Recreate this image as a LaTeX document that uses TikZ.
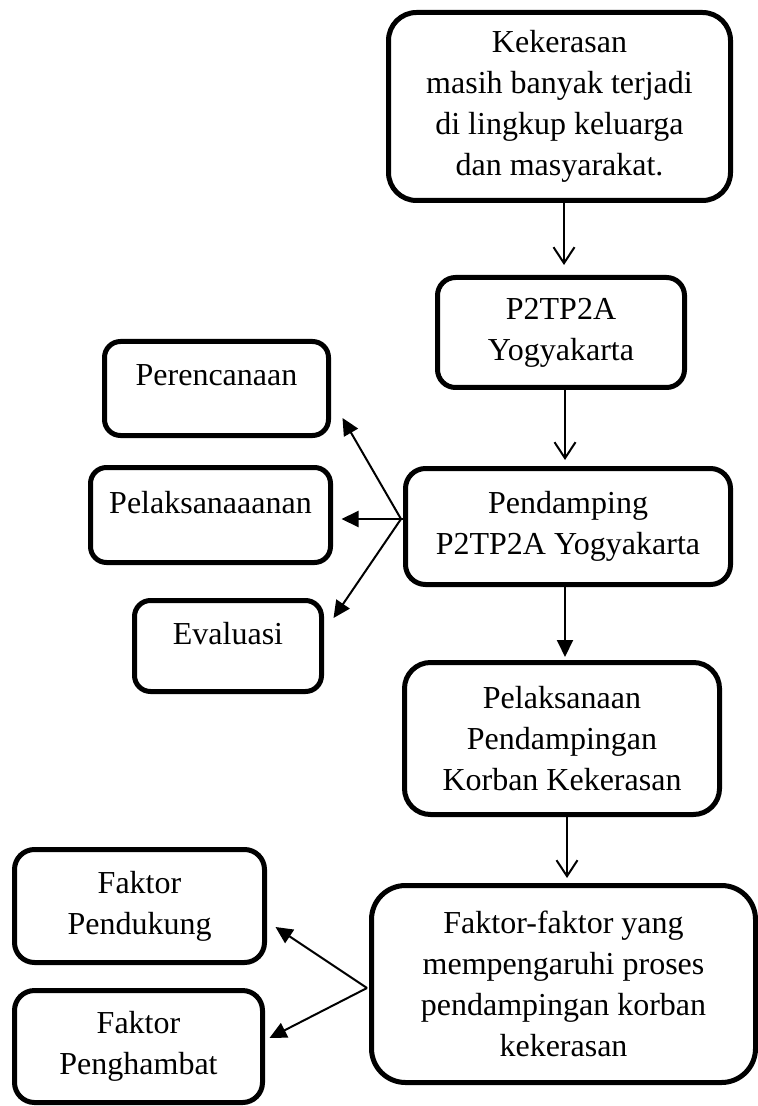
\documentclass[tikz,border=0pt]{standalone}
\usepackage{fontspec}
\setmainfont{Liberation Serif}
\usepackage{tikz}
\usetikzlibrary{shapes,arrows.meta,positioning}
\tikzstyle{kotak} = [rectangle, draw, line width=2.5pt, align=center, inner sep=0pt, font=\fontsize{16}{20.5}\selectfont]
\tikzstyle{satubaris} = [text depth=13pt]
\tikzstyle{panahbuka} = [draw, line width=1pt, -{Straight Barb[length=8pt,width=10.5pt]}]
\tikzstyle{panahisi} = [draw, line width=1pt, -{Triangle[length=8.5pt,width=8pt]}]

\begin{document}
\begin{tikzpicture}[x=0.5pt, y=-0.5pt]
			\useasboundingbox (0,0) rectangle (758,1106);
			\node [kotak, rounded corners=14pt, minimum width=171pt, minimum height=94pt] (kekerasan) at (559.5, 106.5) {Kekerasan\\masih banyak terjadi\\di lingkup keluarga\\dan masyarakat.};
			\node [kotak, rounded corners=9pt, minimum width=123.5pt, minimum height=55pt] (p2tp2a) at (561, 332.5) {P2TP2A\\Yogyakarta};
			\node [kotak, rounded corners=10pt, minimum width=162.5pt, minimum height=58pt] (pendamping) at (568, 526.5) {Pendamping\\P2TP2A Yogyakarta};
			\node [kotak, rounded corners=13pt, minimum width=157.5pt, minimum height=76pt] (pelaksanaan) at (562, 738.5) {Pelaksanaan\\Pendampingan\\Korban Kekerasan};
			\node [kotak, rounded corners=17pt, minimum width=192pt, minimum height=98.5pt] (faktor) at (563.5, 984) {Faktor-faktor yang\\mempengaruhi proses\\pendampingan korban\\kekerasan};
			\node [kotak, satubaris, rounded corners=8pt, minimum width=112pt, minimum height=47pt] (perencanaan) at (216.5, 388.5) {Perencanaan};
			\node [kotak, satubaris, rounded corners=8pt, minimum width=120pt, minimum height=47.5pt] (pelaksanaaanan) at (210.5, 515) {Pelaksanaaanan};
			\node [kotak, satubaris, rounded corners=8pt, minimum width=93.5pt, minimum height=45.5pt] (evaluasi) at (228, 646) {Evaluasi};
			\node [kotak, rounded corners=10pt, minimum width=125pt, minimum height=56.5pt] (pendukung) at (139.5, 906) {Faktor\\Pendukung};
			\node [kotak, rounded corners=10pt, minimum width=124pt, minimum height=56pt] (penghambat) at (138.5, 1046.5) {Faktor\\Penghambat};
			\coordinate (cabang1) at (401, 519);
			\coordinate (cabang2) at (367, 988);

			\path [panahbuka, shorten >=5pt] (564,0 |- kekerasan.south) -- (564,0 |- p2tp2a.north);
			\path [panahbuka, shorten >=3pt] (565,0 |- p2tp2a.south) -- (565,0 |- pendamping.north);
			\path [panahisi, shorten >=1.5pt] (565,0 |- pendamping.south) -- (565,0 |- pelaksanaan.north);
			\path [panahbuka, shorten >=2.5pt] (567,0 |- pelaksanaan.south) -- (567,0 |- faktor.north);

			\path [line width=1pt, draw] (cabang1) -- (pendamping.west |- cabang1);
			\path [panahisi] (cabang1) -- ([shift={(11.5,29.5)}]perencanaan.east);
			\path [panahisi] (cabang1) -- ([shift={(8.5,4)}]pelaksanaaanan.east);
			\path [panahisi] (cabang1) -- ([shift={(9.5,-28)}]evaluasi.east);

			\path [panahisi] (cabang2) -- ([shift={(8.5,21)}]pendukung.east);
			\path [panahisi] (cabang2) -- ([shift={(4.5,-8.5)}]penghambat.east);
		\end{tikzpicture}
\end{document}
